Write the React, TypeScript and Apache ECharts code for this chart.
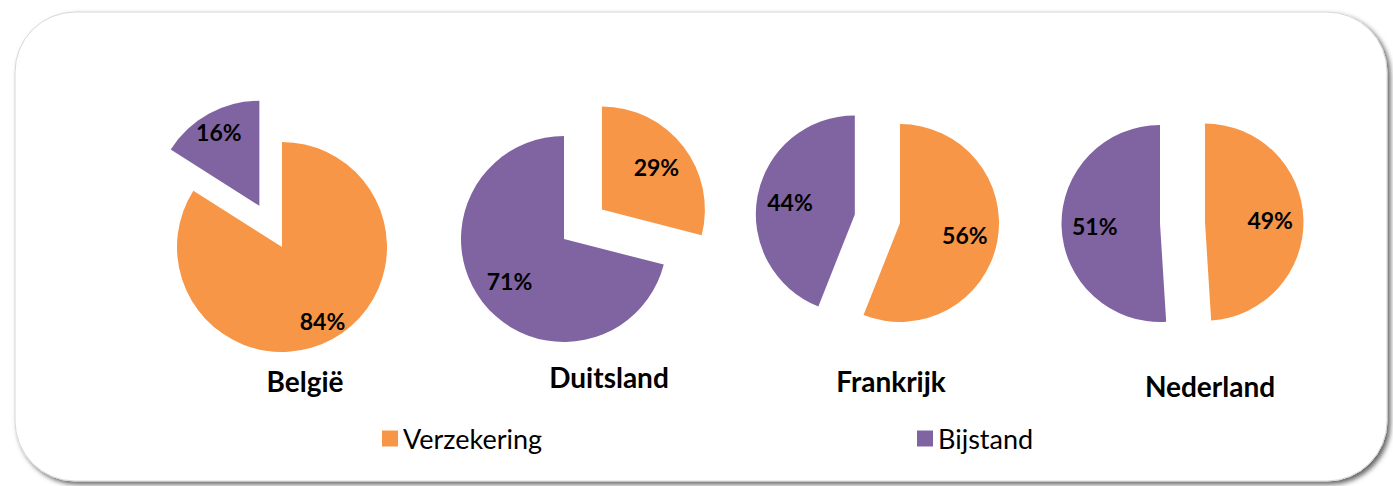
import React, { useEffect, useRef } from 'react';
import * as echarts from 'echarts';

// ---- data ----
const categories = ['België', 'Duitsland', 'Frankrijk', 'Nederland'];
const seriesNames = ['Verzekering', 'Bijstand'];
const verzekering = [84, 29, 56, 49];
const bijstand = [16, 71, 44, 51];

// ---- styles / layout ----
const COLORS = ['#F79646', '#8064A2'];
const W = 1393;
const H = 486;
const FONT = 'Lato, "Open Sans", sans-serif';

const pieLayout = [
  { cx: 282, cy: 247, r: 105, explode: 47, labelR0: 57, nameX: 305, nameY: 381 },
  { cx: 564, cy: 239, r: 103, explode: 48, labelR0: 29, nameX: 609, nameY: 377 },
  { cx: 900, cy: 223, r: 99, explode: 46, labelR0: 27, nameX: 891, nameY: 381 },
  { cx: 1160, cy: 223.5, r: 98.5, explode: 45, labelR0: 26, nameX: 1210, nameY: 386 },
];
const legendX = [382, 917];
const legendTop = 425;

function buildOption() {
  const series: any[] = [];
  categories.forEach((cat, i) => {
    const vals = [verzekering[i], bijstand[i]];
    const explodedIdx = vals[0] < vals[1] ? 0 : 1;
    const L = pieLayout[i];
    const mk = (overlay: boolean) => ({
      type: 'pie',
      name: cat + (overlay ? ' labels' : ''),
      center: [L.cx, L.cy],
      radius: overlay ? [L.labelR0, L.r] : [0, L.r],
      startAngle: 90,
      clockwise: true,
      selectedMode: 'multiple',
      selectedOffset: L.explode,
      avoidLabelOverlap: false,
      silent: true,
      padAngle: 0,
      minAngle: 0,
      itemStyle: { borderWidth: 0 },
      label: overlay
        ? {
            show: true,
            position: 'inside',
            formatter: '{c}%',
            fontFamily: FONT,
            fontWeight: 'bold',
            fontSize: 23,
            color: '#000',
          }
        : { show: false },
      labelLine: { show: false },
      emphasis: { disabled: true },
      select: { itemStyle: { borderWidth: 0, borderColor: 'rgba(0,0,0,0)' } },
      z: overlay ? 3 : 2,
      data: vals.map((v, k) => ({
        name: seriesNames[k],
        value: v,
        selected: k === explodedIdx,
        itemStyle: { color: overlay ? 'rgba(0,0,0,0)' : COLORS[k] },
      })),
    });
    series.push(mk(false), mk(true));
  });

  const graphics: any[] = [
    {
      type: 'rect',
      z: -10,
      shape: { x: 15, y: 12, width: 1372, height: 469, r: 60 },
      style: {
        fill: '#ffffff',
        stroke: '#d6d6d6',
        lineWidth: 1,
        shadowBlur: 5,
        shadowOffsetX: 3,
        shadowOffsetY: 3,
        shadowColor: 'rgba(0,0,0,0.6)',
      },
    },
  ];
  categories.forEach((cat, i) => {
    const L = pieLayout[i];
    graphics.push({
      type: 'text',
      z: 10,
      x: L.nameX,
      y: L.nameY,
      style: {
        text: cat,
        fill: '#000',
        fontFamily: FONT,
        fontWeight: 'bold',
        fontSize: 28,
        align: 'center',
        verticalAlign: 'middle',
      },
    });
  });

  return {
    animation: false,
    backgroundColor: '#ffffff',
    color: COLORS,
    graphic: { elements: graphics },
    legend: seriesNames.map((n, k) => ({
      data: [{ name: n, itemStyle: { color: COLORS[k] } }],
      left: legendX[k],
      top: legendTop,
      icon: 'rect',
      itemWidth: 16,
      itemHeight: 16,
      padding: 0,
      selectedMode: false,
      textStyle: { fontFamily: FONT, fontSize: 27, color: '#000' },
    })),
    series,
  };
}

export default function App() {
  const ref = useRef<HTMLDivElement>(null);
  useEffect(() => {
    if (!ref.current) return;
    const chart = echarts.init(ref.current, undefined, { renderer: 'svg' });
    chart.setOption(buildOption() as any);
    return () => chart.dispose();
  }, []);
  return (
    <div
      ref={ref}
      style={{ position: 'absolute', left: 0, top: 0, width: W, height: H }}
    />
  );
}
